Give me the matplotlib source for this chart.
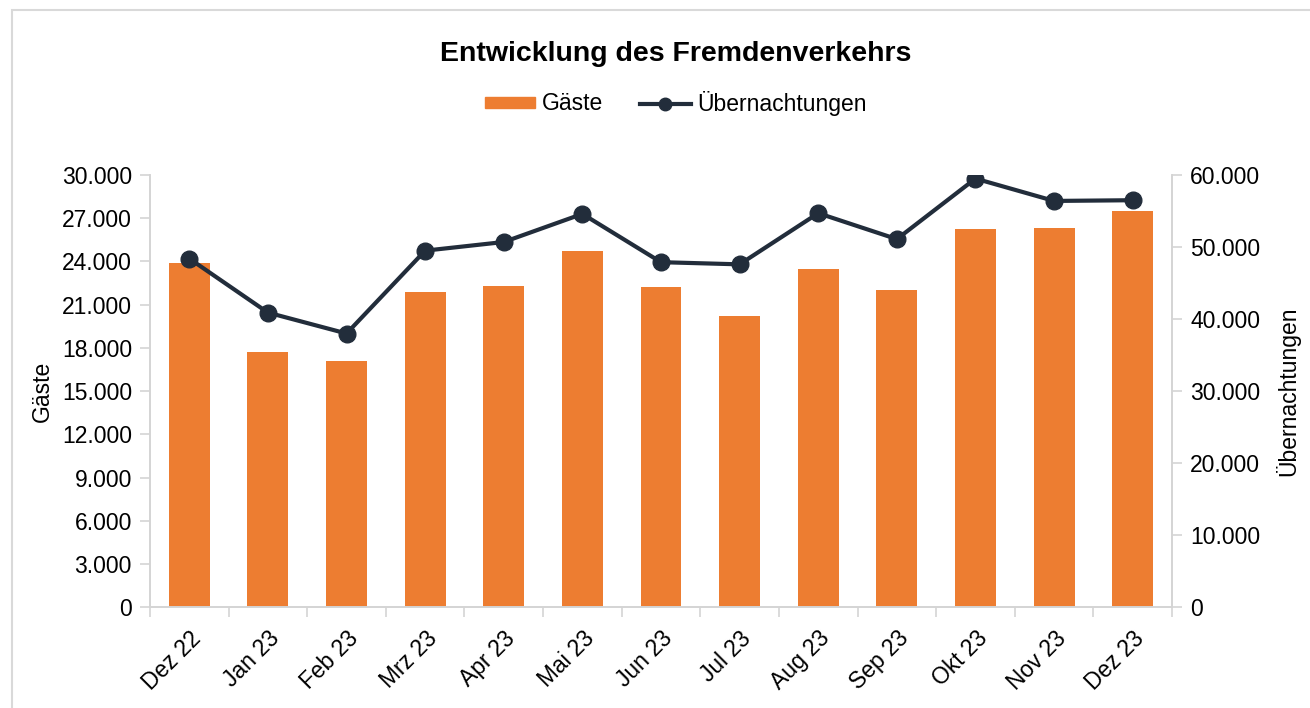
import matplotlib.pyplot as plt
from matplotlib.ticker import FuncFormatter, FixedLocator
from matplotlib.lines import Line2D
from matplotlib.patches import Rectangle

plt.rcParams['font.family'] = ['Liberation Sans', 'DejaVu Sans']

monate = ['Dez 22', 'Jan 23', 'Feb 23', 'Mrz 23', 'Apr 23', 'Mai 23', 'Jun 23',
          'Jul 23', 'Aug 23', 'Sep 23', 'Okt 23', 'Nov 23', 'Dez 23']
gaeste = [23900, 17700, 17100, 21900, 22300, 24700, 22200,
          20200, 23500, 22000, 26250, 26350, 27500]
uebernachtungen = [48400, 40900, 38000, 49500, 50700, 54600, 47900,
                   47600, 54700, 51100, 59500, 56400, 56500]

ORANGE = '#ED7D31'
NAVY = '#222D3B'
GRAU = '#D4D4D4'
FS = 16.5


def tausender(v, pos):
    return f'{int(v):,}'.replace(',', '.')


fig = plt.figure(figsize=(13.1, 7.08), dpi=100)
ax = fig.add_axes([150 / 1310, 1 - 607.3 / 708, 1022 / 1310, 432.3 / 708])
ax2 = ax.twinx()

x = range(len(monate))
ax.bar(x, gaeste, width=0.52, color=ORANGE, zorder=2)
ax2.plot(x, uebernachtungen, color=NAVY, lw=3, marker='o', ms=12, zorder=3)

ax.set_xlim(-0.5, len(monate) - 0.5)
ax.set_ylim(0, 30000)
ax2.set_ylim(0, 60000)
ax.yaxis.set_major_locator(FixedLocator(range(0, 30001, 3000)))
ax2.yaxis.set_major_locator(FixedLocator(range(0, 60001, 10000)))
ax.yaxis.set_major_formatter(FuncFormatter(tausender))
ax2.yaxis.set_major_formatter(FuncFormatter(tausender))

ax.set_xticks(list(x))
ax.set_xticklabels(monate, rotation=45, ha='right', rotation_mode='anchor')
ax.set_xticks([i + 0.5 for i in range(-1, len(monate))], minor=True)
ax.tick_params(axis='x', which='major', length=0, pad=14, labelsize=FS)
ax.tick_params(axis='x', which='minor', length=7, color=GRAU, width=1.2)
ax.tick_params(axis='y', length=7, color=GRAU, width=1.2, labelsize=FS, pad=6)
ax2.tick_params(axis='y', length=7, color=GRAU, width=1.2, labelsize=FS, pad=6)

for a in (ax, ax2):
    for s in a.spines.values():
        s.set_color(GRAU)
        s.set_linewidth(1.2)
    a.spines['top'].set_visible(False)

ax.set_ylabel('Gäste', fontsize=FS, labelpad=6)
ax2.set_ylabel('Übernachtungen', fontsize=FS, labelpad=11)

mitte = 676 / 1310
fig.text(mitte, 1 - 54 / 708, 'Entwicklung des Fremdenverkehrs', ha='center',
         va='center', fontsize=20.5, fontweight='bold')

handles = [Rectangle((0, 0), 1, 1, color=ORANGE),
           Line2D([], [], color=NAVY, lw=3, marker='o', ms=9)]
fig.legend(handles, ['Gäste', 'Übernachtungen'], loc='center',
           bbox_to_anchor=(mitte, 1 - 103 / 708), ncol=2, frameon=False,
           fontsize=FS, handlelength=2.2, handleheight=0.35, columnspacing=1.6,
           handletextpad=0.3)

# grauer Rahmen um das Diagramm
fig.patches.append(Rectangle((11.5 / 1310, -0.1), 1.2, 1 - 10.5 / 708 + 0.1,
                             transform=fig.transFigure, fill=False,
                             edgecolor='#D9D9D9', lw=1.5))

fig.savefig('out.png', dpi=100)
